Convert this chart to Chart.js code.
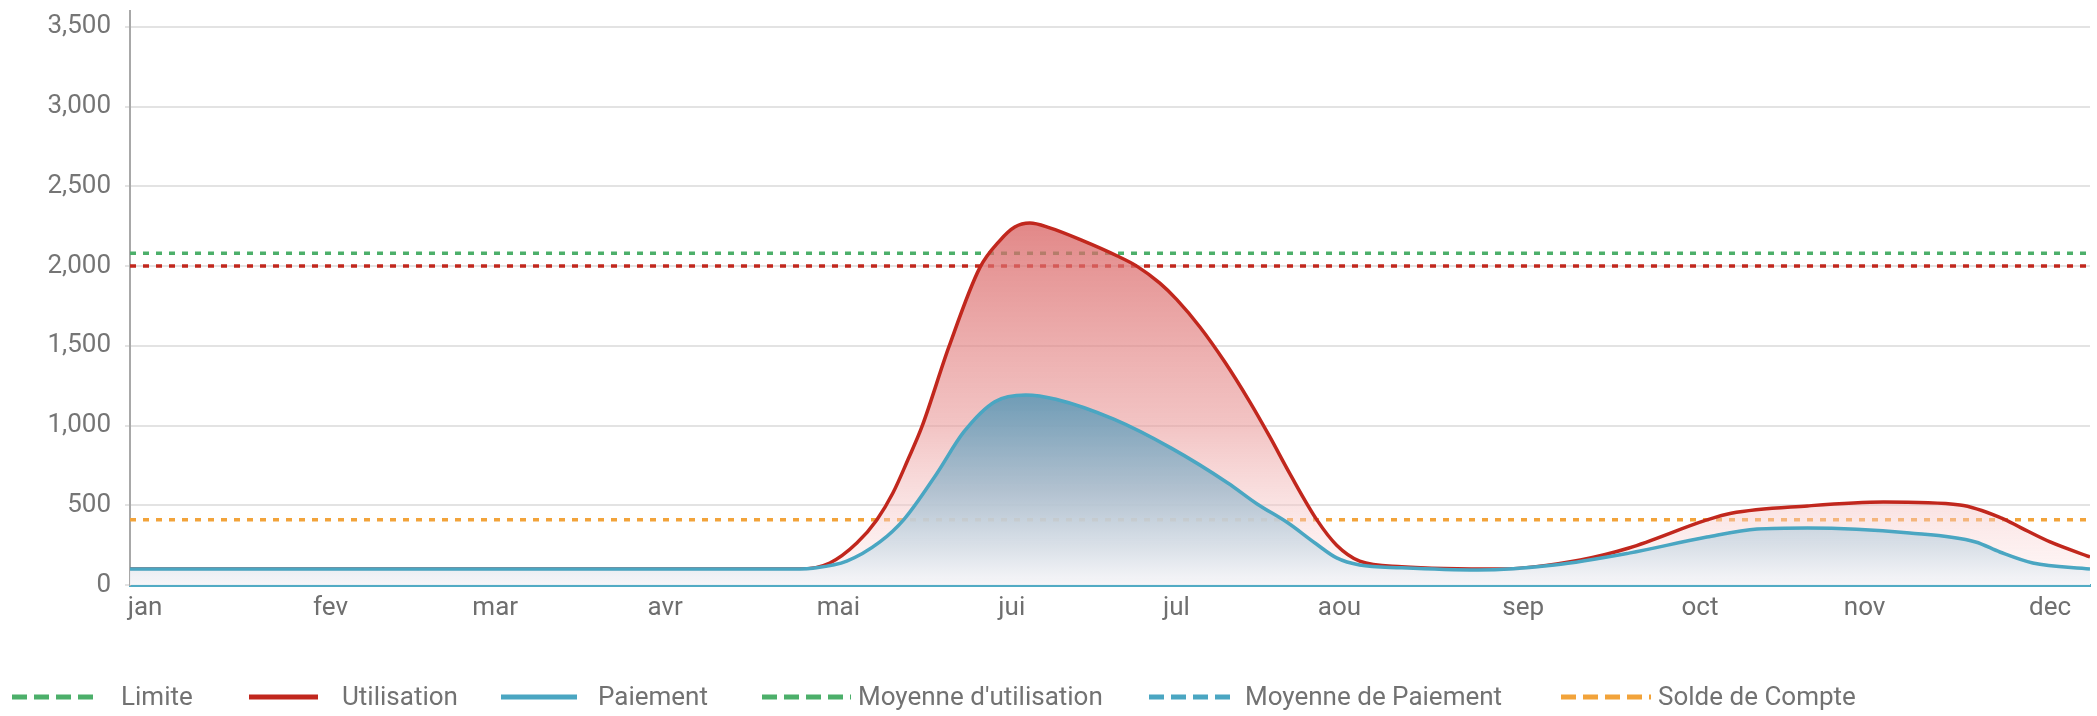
<!DOCTYPE html>
<html>
<head>
<meta charset="utf-8">
<script src="https://cdn.jsdelivr.net/npm/chart.js@4.4.1/dist/chart.umd.min.js"></script>
<style>
  html, body { margin: 0; padding: 0; background: #ffffff; }
  #wrap { width: 2097px; height: 716px; position: relative; }
</style>
</head>
<body>
<div id="wrap"><canvas id="c" width="2097" height="716"></canvas></div>
<script>
// ---- data ----
const months = ['jan','fev','mar','avr','mai','jui','jul','aou','sep','oct','nov','dec'];
// x position of each month label on the x scale
const monthPos = [0, 1.07, 2.02, 3.0, 4.0, 5.0, 5.95, 6.89, 7.95, 8.97, 9.92, 10.99];
const yTickValues = [0, 500, 1000, 1500, 2000, 2500, 3000, 3500];

const utilisationX = [-0.087, 1.0, 2.0, 3.0, 3.5, 3.777, 3.950, 4.106, 4.221, 4.314, 4.400, 4.481, 4.637, 4.815, 4.931, 5.017, 5.104, 5.219, 5.409, 5.606, 5.721, 5.854, 5.952, 6.084, 6.228, 6.372, 6.488, 6.603, 6.759, 6.874, 7.007, 7.249, 7.832, 8.28, 8.56, 9.01, 9.15, 9.59, 10.03, 10.47, 10.71, 10.82, 10.99, 11.22];
const utilisationY = [100, 100, 100, 100, 100, 100, 138, 263, 408, 577, 784, 991, 1493, 1989, 2160, 2245, 2270, 2240, 2160, 2065, 2000, 1893, 1790, 1620, 1400, 1150, 930, 700, 410, 250, 150, 115, 100, 157, 232, 408, 450, 496, 520, 502, 420, 360, 270, 176];

const paiementX = [-0.087, 1.0, 2.0, 3.0, 3.5, 3.777, 3.852, 4.048, 4.239, 4.377, 4.562, 4.723, 4.902, 5.081, 5.254, 5.588, 5.917, 6.246, 6.413, 6.592, 6.753, 6.874, 7.007, 7.249, 7.687, 8.13, 8.56, 9.01, 9.30, 9.59, 10.18, 10.56, 10.70, 10.89, 11.22];
const paiementY = [100, 100, 100, 100, 100, 100, 105, 150, 270, 410, 690, 960, 1150, 1192, 1165, 1040, 860, 640, 510, 390, 260, 170, 125, 108, 94, 125, 200, 301, 351, 358, 326, 270, 207, 138, 100];

const limite = 2000;
const moyenneUtilisation = 2080;
const soldeCompte = 410;

const legendLabels = ['Limite', 'Utilisation', 'Paiement', "Moyenne d'utilisation", 'Moyenne de Paiement', 'Solde de Compte'];

// ---- helpers ----
const X_MIN = -0.087, X_MAX = 11.22, Y_MAX = 3600;
const pts = (xs, ys) => xs.map((x, i) => ({ x: x, y: ys[i] }));
const flat = (v) => [{ x: X_MIN, y: v }, { x: X_MAX, y: v }];

const RED = '#c1271d';
const BLUE = '#4aa6c2';
const GREEN = '#4caf6a';
const ORANGE = '#f2a33a';
const FONT = 'Roboto, "Noto Sans", sans-serif';

function vGrad(ctx, yScale, stops) {
  const y0 = stops[0][0], y1 = stops[stops.length-1][0];
  const g = ctx.createLinearGradient(0, yScale.getPixelForValue(y0), 0, yScale.getPixelForValue(y1));
  stops.forEach(s => g.addColorStop((s[0]-y0)/(y1-y0), s[1]));
  return g;
}

const legendPlugin = {
  id: 'customLegend',
  afterDraw(chart) {
    const ctx = chart.ctx;
    const items = [
      { color: GREEN,  dash: true,  x0: 12,   x1: 99,   tx: 121 },
      { color: RED,    dash: false, x0: 249,  x1: 318,  tx: 342 },
      { color: BLUE,   dash: false, x0: 501,  x1: 577,  tx: 598 },
      { color: GREEN,  dash: true,  x0: 762,  x1: 851,  tx: 858 },
      { color: BLUE,   dash: true,  x0: 1149, x1: 1237, tx: 1245 },
      { color: ORANGE, dash: true,  x0: 1561, x1: 1651, tx: 1658 }
    ];
    const y = 697;
    ctx.save();
    items.forEach((it, i) => {
      ctx.beginPath();
      ctx.strokeStyle = it.color;
      ctx.lineWidth = 5;
      ctx.setLineDash(it.dash ? [15, 7] : []);
      ctx.lineCap = 'butt';
      ctx.moveTo(it.x0, y);
      ctx.lineTo(it.x1, y);
      ctx.stroke();
      ctx.setLineDash([]);
      ctx.fillStyle = '#727272';
      ctx.font = '26px ' + FONT;
      ctx.textBaseline = 'middle';
      ctx.textAlign = 'left';
      ctx.fillText(legendLabels[i], it.tx, y + 1);
    });
    ctx.restore();
  }
};

const chart = new Chart(document.getElementById('c'), {
  type: 'line',
  data: {
    datasets: [
      {
        label: legendLabels[2],
        data: pts(paiementX, paiementY),
        borderColor: BLUE,
        borderWidth: 3.5,
        pointRadius: 0,
        cubicInterpolationMode: 'monotone',
        fill: 'origin',
        order: 1,
        backgroundColor: (c) => {
          const { ctx, chartArea, scales } = c.chart;
          if (!chartArea) return 'rgba(90,150,180,0.8)';
          return vGrad(ctx, scales.y, [[1200, 'rgba(96,152,181,0.9)'], [600, 'rgba(165,188,205,0.86)'], [0, 'rgba(246,246,249,0.9)']]);
        }
      },
      {
        label: legendLabels[1],
        data: pts(utilisationX, utilisationY),
        borderColor: RED,
        borderWidth: 3.5,
        pointRadius: 0,
        cubicInterpolationMode: 'monotone',
        fill: 'origin',
        order: 2,
        backgroundColor: (c) => {
          const { ctx, chartArea, scales } = c.chart;
          if (!chartArea) return 'rgba(220,100,100,0.6)';
          return vGrad(ctx, scales.y, [[2300, 'rgba(216,96,96,0.76)'], [1000, 'rgba(234,156,156,0.6)'], [0, 'rgba(255,235,235,0.35)']]);
        }
      },
      {
        label: legendLabels[0],
        data: flat(limite),
        borderColor: RED,
        borderWidth: 3.5,
        borderDash: [6, 7],
        pointRadius: 0,
        fill: false,
        order: 5
      },
      {
        label: legendLabels[3],
        data: flat(moyenneUtilisation),
        borderColor: GREEN,
        borderWidth: 3.5,
        borderDash: [6, 7],
        pointRadius: 0,
        fill: false,
        order: 5
      },
      {
        label: legendLabels[5],
        data: flat(soldeCompte),
        borderColor: ORANGE,
        borderWidth: 3.5,
        borderDash: [6, 7],
        pointRadius: 0,
        fill: false,
        order: 5
      }
    ]
  },
  options: {
    responsive: false,
    animation: false,
    devicePixelRatio: 1,
    layout: { padding: { left: 0, right: 7, top: 11, bottom: 91 } },
    plugins: {
      legend: { display: false },
      tooltip: { enabled: false }
    },
    scales: {
      x: {
        type: 'linear',
        min: X_MIN,
        max: X_MAX,
        afterBuildTicks: (s) => { s.ticks = monthPos.map(v => ({ value: v })); },
        afterFit: (s) => { s.height = 40; s.paddingLeft = 0; s.paddingRight = 0; },
        ticks: {
          autoSkip: false,
          maxRotation: 0,
          padding: 8,
          color: '#6f6f6f',
          font: { family: FONT, size: 26 },
          callback: (v, i) => months[i]
        },
        grid: { display: false, drawTicks: false },
        border: { display: true, color: '#52abc4', width: 3 }
      },
      y: {
        type: 'linear',
        min: 0,
        max: Y_MAX,
        afterBuildTicks: (s) => { s.ticks = yTickValues.map(v => ({ value: v })); },
        afterFit: (s) => { s.width = 130; s.paddingTop = 0; s.paddingBottom = 0; },
        ticks: {
          padding: 14,
          color: '#757575',
          font: { family: FONT, size: 26 },
          callback: (v) => v.toLocaleString('en-US')
        },
        grid: { color: '#e3e3e3', lineWidth: 2, tickLength: 5 },
        border: { display: true, color: '#a8a8a8', width: 2 }
      }
    }
  },
  plugins: [legendPlugin]
});
</script>
</body>
</html>
